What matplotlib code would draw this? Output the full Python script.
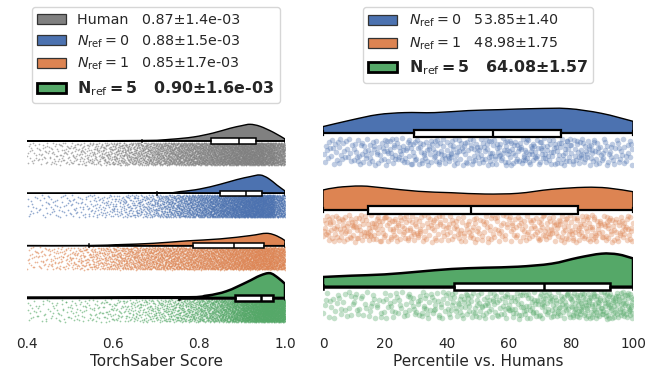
import numpy as np
import matplotlib.pyplot as plt
from matplotlib.patches import Patch, PathPatch
from matplotlib.path import Path

plt.rcParams['font.family'] = ['DejaVu Sans']
plt.rcParams['text.color'] = '0.15'
plt.rcParams['xtick.color'] = '0.15'
plt.rcParams['axes.labelcolor'] = '0.15'

GRAY = '#808080'
BLUE = '#4C72B0'
ORANGE = '#DD8452'
GREEN = '#55A868'

# ---- left panel: TorchSaber score ----
score_colors = [GRAY, BLUE, ORANGE, GREEN]
score_labels = ['Human   0.87±1.4e-03',
                r'$N_{\mathrm{ref}}=0$   0.88±1.5e-03',
                r'$N_{\mathrm{ref}}=1$   0.85±1.7e-03',
                r'$\mathbf{N}_{\mathrm{ref}}\mathbf{=5}$   0.90±1.6e-03']

score_edges = np.linspace(0.4, 1.0, 25)
score_counts = [
    [18, 22, 25, 29, 36, 43, 54, 68, 86, 100, 118, 140, 165, 190, 215, 240, 270, 300, 340, 390, 420, 430, 380, 300],
    [13, 13, 16, 16, 19, 22, 26, 32, 38, 48, 58, 72, 95, 120, 150, 180, 215, 260, 310, 370, 430, 470, 440, 260],
    [20, 24, 29, 34, 42, 52, 65, 80, 98, 115, 130, 145, 160, 172, 185, 198, 215, 232, 255, 280, 310, 335, 345, 300],
    [13, 13, 14, 16, 18, 19, 22, 26, 30, 35, 42, 50, 60, 72, 88, 108, 135, 170, 220, 300, 400, 500, 570, 540],
]

# density outline (height in pixels)
score_kde_x = [
    [0.38, 0.667, 0.733, 0.787, 0.833, 0.872, 0.899, 0.919, 0.942, 0.973, 1.0],
    [0.38, 0.702, 0.756, 0.802, 0.849, 0.888, 0.919, 0.942, 0.961, 0.981, 1.0],
    [0.38, 0.544, 0.616, 0.694, 0.771, 0.849, 0.919, 0.957, 0.981, 1.0],
    [0.38, 0.752, 0.818, 0.864, 0.911, 0.942, 0.965, 0.984, 1.0],
]
score_kde_h = [
    [0.0, 0.5, 1.7, 4.0, 8.0, 12.7, 15.3, 16.7, 14.7, 8.7, 2.0],
    [0.0, 0.3, 1.7, 4.3, 9.0, 13.7, 16.7, 18.3, 15.0, 8.3, 2.3],
    [0.0, 0.0, 1.0, 2.3, 4.7, 6.7, 10.0, 12.3, 9.7, 5.0],
    [0.0, 0.5, 2.3, 6.7, 15.7, 22.3, 24.7, 20.0, 14.0],
]

score_q1 = [0.828, 0.849, 0.787, 0.884]
score_med = [0.893, 0.909, 0.882, 0.944]
score_q3 = [0.933, 0.947, 0.950, 0.973]
score_lo = [0.667, 0.702, 0.545, 0.754]
score_hi = [1.0, 1.0, 1.0, 1.0]

# ---- right panel: percentile vs humans ----
pct_colors = [BLUE, ORANGE, GREEN]
pct_labels = [r'$N_{\mathrm{ref}}=0$   53.85±1.40',
              r'$N_{\mathrm{ref}}=1$   48.98±1.75',
              r'$\mathbf{N}_{\mathrm{ref}}\mathbf{=5}$   64.08±1.57']

pct_edges = np.linspace(0, 100, 11)
pct_counts = [
    [30, 40, 44, 44, 46, 48, 50, 50, 46, 36],
    [50, 52, 46, 42, 40, 38, 40, 48, 52, 50],
    [24, 27, 30, 37, 42, 44, 49, 56, 72, 76],
]
pct_kde_x = [
    [0, 9.1, 17.7, 26.3, 36.0, 46.8, 57.5, 68.3, 79.0, 89.8, 100],
    [0, 4.8, 12.4, 19.9, 30.7, 41.4, 52.2, 62.9, 73.7, 84.4, 91.9, 100],
    [0, 9.1, 19.9, 30.7, 41.4, 52.2, 62.9, 73.7, 82.3, 89.8, 95.2, 100],
]
pct_kde_h = [
    [6.7, 13.3, 18.7, 20.7, 20.7, 22.7, 23.7, 24.7, 24.7, 20.0, 12.0],
    [20.0, 22.7, 24.0, 22.0, 18.7, 17.3, 16.0, 16.7, 20.7, 22.7, 22.0, 18.3],
    [9.7, 11.0, 12.3, 15.0, 17.7, 19.0, 20.0, 23.0, 29.0, 33.0, 32.3, 28.3],
]
pct_q1 = [29.5, 14.6, 42.4]
pct_med = [54.7, 47.6, 71.3]
pct_q3 = [76.8, 82.4, 92.6]
pct_lo = [0, 0, 0]
pct_hi = [100, 100, 100]


def halton(idx, b):
    idx = np.asarray(idx) + 1
    f = np.ones(idx.shape)
    r = np.zeros(idx.shape)
    while np.any(idx > 0):
        f = f / b
        r = r + f * (idx % b)
        idx = idx // b
    return r


def rain_points(edges, counts, shift):
    xs = []
    k = shift
    for lo, hi, n in zip(edges[:-1], edges[1:], counts):
        idx = np.arange(n) + k
        xs.append(lo + (hi - lo) * halton(idx, 2))
        k += n
    xs = np.concatenate(xs)
    jit = halton(np.arange(len(xs)) + shift, 3)
    return xs, jit


def kde_patch(xs, hs, base, color, lw):
    pts = np.column_stack([xs, base - np.asarray(hs, float)])
    n = len(pts)
    verts = [tuple(pts[0])]
    codes = [Path.MOVETO]
    for i in range(n - 1):
        p0 = pts[max(i - 1, 0)]
        p1 = pts[i]
        p2 = pts[i + 1]
        p3 = pts[min(i + 2, n - 1)]
        c1 = p1 + (p2 - p0) / 6
        c2 = p2 - (p3 - p1) / 6
        verts += [tuple(c1), tuple(c2), tuple(p2)]
        codes += [Path.CURVE4] * 3
    verts += [(xs[-1], base), (xs[0], base), (xs[0], base)]
    codes += [Path.LINETO, Path.LINETO, Path.CLOSEPOLY]
    return PathPatch(Path(verts, codes), facecolor=color, edgecolor='black',
                     lw=lw, zorder=2)


def draw_box(ax, pos, q1, med, q3, lo, hi, width, lw):
    stats = [dict(q1=q1, med=med, q3=q3, whislo=lo, whishi=hi, fliers=[])]
    kw = dict(positions=[pos], widths=width, patch_artist=True, showfliers=False,
              capwidths=width * 0.5,
              boxprops=dict(facecolor='white', edgecolor='black', linewidth=lw),
              medianprops=dict(color='black', linewidth=lw),
              whiskerprops=dict(color='black', linewidth=lw),
              capprops=dict(color='black', linewidth=lw), zorder=3)
    try:
        ax.bxp(stats, orientation='horizontal', **kw)
    except TypeError:
        ax.bxp(stats, vert=False, **kw)


fig = plt.figure(figsize=(6.6, 3.74), dpi=100)
H = 374.0
axL = fig.add_axes([27 / 660, 1 - 330 / H, 258 / 660, 230 / H])
axR = fig.add_axes([323 / 660, 1 - 330 / H, 310 / 660, 230 / H])

# left
pitchL = 52.3
for i in range(4):
    base = i * pitchL
    hl = i == 3
    axL.add_patch(kde_patch(score_kde_x[i], score_kde_h[i], base, score_colors[i],
                            1.8 if hl else 1.0))
    xs, jit = rain_points(score_edges, score_counts[i], 37 * i)
    axL.scatter(xs, base + 1.5 + 22.5 * jit, s=1.5, color=score_colors[i],
                alpha=0.6, linewidths=0, zorder=1)
    draw_box(axL, base, score_q1[i], score_med[i], score_q3[i], score_lo[i],
             score_hi[i], 5.3, 1.8 if hl else 1.1)
axL.set_xlim(0.4, 1.0)
axL.set_ylim(189, -41)

# right
pitchR = 76.7
for i in range(3):
    base = i * pitchR
    hl = i == 2
    axR.add_patch(kde_patch(pct_kde_x[i], pct_kde_h[i], base, pct_colors[i],
                            1.8 if hl else 1.0))
    xs, jit = rain_points(pct_edges, pct_counts[i], 11 * i)
    axR.scatter(xs, base + 5 + 27 * jit, s=16, color=pct_colors[i],
                alpha=0.35, linewidths=0, zorder=1)
    draw_box(axR, base, pct_q1[i], pct_med[i], pct_q3[i], pct_lo[i],
             pct_hi[i], 7.3, 1.8 if hl else 1.6)
axR.set_xlim(0, 100)
axR.set_ylim(196.7, -33.3)

for ax, ticks, lab in [(axL, [0.4, 0.6, 0.8, 1.0], 'TorchSaber Score'),
                       (axR, [0, 20, 40, 60, 80, 100], 'Percentile vs. Humans')]:
    for s in ax.spines.values():
        s.set_visible(False)
    ax.set_yticks([])
    ax.set_xticks(ticks)
    ax.set_xticklabels([f'{t:.1f}' if isinstance(t, float) else str(t) for t in ticks])
    ax.tick_params(axis='x', length=0, pad=5, labelsize=9.8)
    ax.set_xlabel(lab, fontsize=11, labelpad=2)
    ax.patch.set_alpha(0)


def legend_for(ax, colors, labels):
    handles = []
    for j, c in enumerate(colors):
        last = j == len(colors) - 1
        handles.append(Patch(facecolor=c, edgecolor='black' if last else '0.2',
                             linewidth=2.0 if last else 0.9))
    leg = ax.legend(handles, labels, loc='upper center',
                    bbox_to_anchor=(0.5, (330 - 7) / 230), borderaxespad=0,
                    fontsize=10.3, frameon=True, edgecolor='0.8',
                    labelspacing=0.45)
    leg.get_texts()[-1].set_fontweight('bold')
    leg.get_texts()[-1].set_fontsize(11.4)
    return leg


legend_for(axL, score_colors, score_labels)
legend_for(axR, pct_colors, pct_labels)

fig.savefig('out.png', dpi=100)
